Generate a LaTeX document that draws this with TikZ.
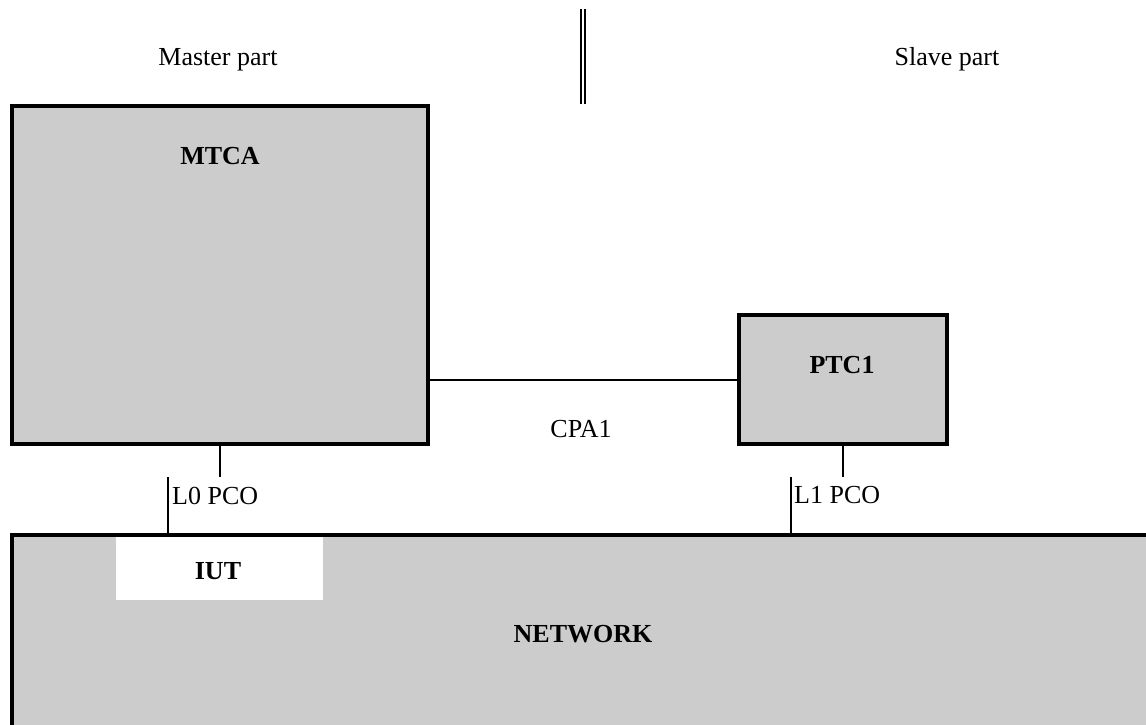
\documentclass[tikz,border=0pt]{standalone}
\usepackage{fontspec}
\setmainfont{Liberation Serif}
\definecolor{boxgray}{HTML}{CCCCCC}
\tikzset{
  box/.style={draw=black, fill=boxgray, line width=4pt, inner sep=0pt, rectangle},
  txt/.style={inner sep=0pt, anchor=base, font=\fontsize{26}{30}\selectfont},
  btxt/.style={txt, font=\fontsize{26}{30}\selectfont\bfseries},
  thin/.style={line width=2pt}
}
\begin{document}
\begin{tikzpicture}[x=1pt,y=-1pt]
\useasboundingbox (0,0) rectangle (1146,725);
\clip (0,0) rectangle (1146,725);
% network
\node[fill=boxgray, inner sep=0pt, minimum width=1148pt, minimum height=205pt, outer sep=0pt] (net) at (586,637.5) {};
\draw[line width=4pt] (net.south west) -- (net.north west) -- (net.north east);
\node[fill=white, inner sep=0pt, minimum width=207pt, minimum height=63pt] (iut) at (219.5,568.5) {};
\node[btxt] (iutT) at (218,579) {IUT};
\node[btxt] (netT) at (583,642) {NETWORK};
% boxes
\node[box, minimum width=416pt, minimum height=337.5pt] (mtca) at (220,274.75) {};
\node[btxt] (mtcaT) at (220,164) {MTCA};
\node[box, minimum width=208pt, minimum height=129pt] (ptc1) at (843,379.5) {};
\node[btxt] (ptc1T) at (842,373) {PTC1};
% labels
\node[txt] (master) at (218,66) {Master part};
\node[txt] (slave) at (947,66) {Slave part};
\node[txt] (cpa) at (581,437) {CPA1};
\node[txt, anchor=base west] (l0) at (172,504) {L0 PCO};
\node[txt, anchor=base west] (l1) at (794,503) {L1 PCO};
% separator
\coordinate (sepAt) at (581,9.3);
\coordinate (sepAb) at (581,104);
\coordinate (sepBt) at (584.7,9.3);
\coordinate (sepBb) at (584.7,104);
\draw[thin] (sepAt) -- (sepAb);
\draw[thin] (sepBt) -- (sepBb);
% connectors
\draw[thin] (ptc1.west) -- (ptc1.west -| mtca.east);
\coordinate (l0top) at (220,477);
\coordinate (l0a) at (168,477);
\draw[thin] (mtca.south) -- (l0top);
\draw[thin] (l0a) -- (l0a |- net.north);
\coordinate (l1top) at (843,477);
\coordinate (l1a) at (791,477);
\draw[thin] (ptc1.south) -- (l1top);
\draw[thin] (l1a) -- (l1a |- net.north);
\end{tikzpicture}
\end{document}
